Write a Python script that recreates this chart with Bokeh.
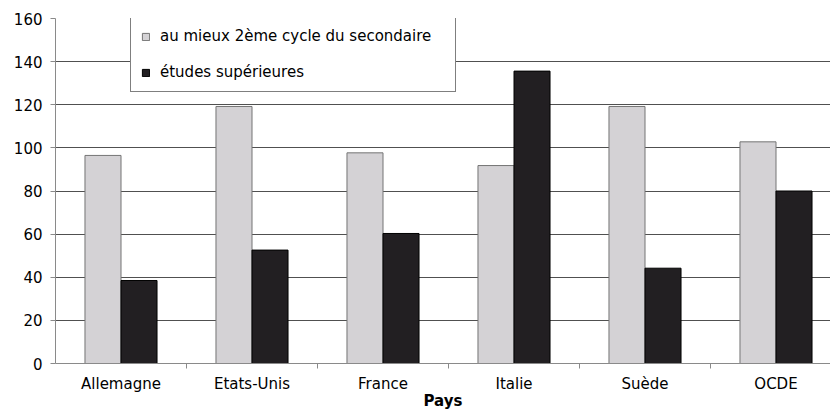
from bokeh.plotting import figure
from bokeh.models import FixedTicker, Legend, LegendItem, ColumnDataSource
from bokeh.transform import dodge
from bokeh.embed import file_html
from bokeh.resources import INLINE

# ---- data ----
pays = ["Allemagne", "Etats-Unis", "France", "Italie", "Suède", "OCDE"]
secondaire = [96.5, 119.2, 97.7, 91.8, 119.2, 102.8]
superieures = [38.5, 52.6, 60.3, 135.6, 44.2, 80.0]
serie_labels = ["au mieux 2ème cycle du secondaire", "études supérieures"]
y_ticks = [0, 20, 40, 60, 80, 100, 120, 140, 160]
x_title = "Pays"

FONT = "DejaVu Sans"
idx = list(range(len(pays)))
src = ColumnDataSource(dict(pos=idx, sec=secondaire, sup=superieures))

W, H = 830, 412
LEFT, TOP, BOTTOM = 55, 18, 49
x0, x1 = -0.5, -0.5 + (W - LEFT) / 131
p = figure(width=W, height=H, x_range=(x0, x1), y_range=(0, 160),
           output_backend="svg", toolbar_location=None,
           min_border_left=LEFT, min_border_right=0, min_border_top=TOP, min_border_bottom=BOTTOM)
p.outline_line_color = None
p.background_fill_color = "white"
p.border_fill_color = "white"

bw = 0.275
r1 = p.vbar(x=dodge("pos", -bw / 2), top="sec", width=bw, source=src,
            fill_color="#d4d2d5", line_color="#747474", line_width=1)
r2 = p.vbar(x=dodge("pos", bw / 2), top="sup", width=bw, source=src,
            fill_color="#221f22", line_color="#000000", line_width=1)

# y axis
p.yaxis.ticker = FixedTicker(ticks=y_ticks)
p.yaxis.minor_tick_line_color = None
p.yaxis.major_tick_in = 0
p.yaxis.major_tick_out = 5
p.yaxis.axis_line_color = "#8a8a8a"
p.yaxis.major_tick_line_color = "#8a8a8a"
p.yaxis.major_label_text_font = FONT
p.yaxis.major_label_text_font_size = "15px"
p.yaxis.major_label_text_color = "black"
p.yaxis.major_label_standoff = 8

# x axis
p.xaxis.ticker = FixedTicker(ticks=idx, minor_ticks=[i + 0.5 for i in idx[:-1]])
p.xaxis.major_label_overrides = {i: name for i, name in zip(idx, pays)}
p.xaxis.major_tick_line_color = None
p.xaxis.major_tick_in = 0
p.xaxis.major_tick_out = 0
p.xaxis.minor_tick_in = 0
p.xaxis.minor_tick_out = 5
p.xaxis.minor_tick_line_color = "#8a8a8a"
p.xaxis.axis_line_color = "#8a8a8a"
p.xaxis.major_label_text_font = FONT
p.xaxis.major_label_text_font_size = "15px"
p.xaxis.major_label_text_color = "black"
p.xaxis.major_label_text_line_height = 1.0
p.xaxis.major_label_standoff = 6
p.xaxis.axis_label = x_title
p.xaxis.axis_label_text_font = FONT
p.xaxis.axis_label_text_font_size = "15px"
p.xaxis.axis_label_text_font_style = "bold"
p.xaxis.axis_label_text_color = "black"
p.xaxis.axis_label_text_line_height = 1.0
p.xaxis.axis_label_standoff = -4

# grid
p.xgrid.visible = False
p.ygrid.ticker = FixedTicker(ticks=y_ticks)
p.ygrid.grid_line_color = "#505050"
p.ygrid.grid_line_width = 1

legend = Legend(items=[LegendItem(label=serie_labels[0], renderers=[r1]),
                       LegendItem(label=serie_labels[1], renderers=[r2])],
                location=(75, 271))
legend.padding = 10
legend.spacing = 18
legend.glyph_width = 9
legend.glyph_height = 9
legend.label_height = 18
legend.label_width = 285
legend.label_standoff = 10
legend.label_text_font = FONT
legend.label_text_font_size = "15px"
legend.label_text_color = "black"
legend.border_line_color = "black"
legend.border_line_width = 1
legend.background_fill_color = "white"
legend.background_fill_alpha = 1
legend.margin = 0
p.add_layout(legend)

open("out.html", "w").write(file_html(p, INLINE))
